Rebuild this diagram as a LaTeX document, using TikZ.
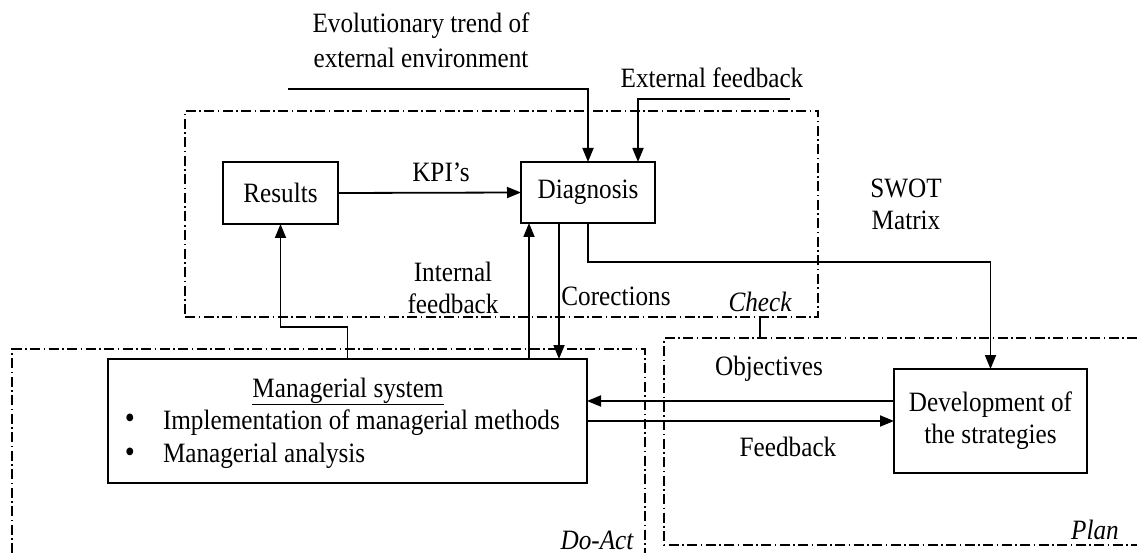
\documentclass[tikz,border=0pt]{standalone}
\usepackage{fontspec}
\setmainfont{Liberation Serif}[FakeStretch=0.9]
\usetikzlibrary{arrows.meta}
\begin{document}
\begin{tikzpicture}[x=1pt,y=-1pt,
  every node/.style={font=\fontsize{28}{32}\selectfont, inner sep=0pt, outer sep=0pt},
  block/.style={draw, line width=1.5pt, align=center},
  frame/.style={line width=1.2pt, dash pattern=on 10pt off 3.5pt on 1.5pt off 3.5pt},
  arr/.style={line width=1.8pt, -{Triangle[length=14pt,width=11pt]}},
  link/.style={line width=1.6pt},
  lbl/.style={align=center},
  phase/.style={font=\fontsize{28}{32}\selectfont\itshape},
  dot/.style={font=\fontsize{32}{32}\selectfont}
]
\useasboundingbox (0,0) rectangle (1137,553);

% phase frames
\node[frame, draw, minimum width=633pt, minimum height=206pt] (check) at (501.5,214) {};
\draw[frame] (12,553) -- (12,349) -- (645,349) -- (645,553);
\draw[frame] (1137,338) -- (664,338) -- (664,545) -- (1137,545);
\coordinate (tickA) at (760,317);
\coordinate (tickB) at (760,338);
\draw[link] (tickA) -- (tickB);

% blocks
\node[block, minimum width=115pt, minimum height=62pt] (res) at (280.5,193) {Results};
\node[block, minimum width=134pt, minimum height=61pt] (diag) at (588,192.5) {Diagnosis};
\node[block, minimum width=479pt, minimum height=124pt] (mgr) at (347.5,421) {};
\node[block, minimum width=193pt, minimum height=104pt] (dev) at (990.5,421) {Development of\\the strategies};

% content of the managerial block
\node[anchor=base] (mgrT) at (348,397) {\underline{Managerial system}};
\node[dot] (b1) at (130,421) {•};
\node[dot] (b2) at (130,455) {•};
\node[anchor=base west] (m1) at (163,429) {Implementation of managerial methods};
\node[anchor=base west] (m2) at (163,462) {Managerial analysis};

% inputs from outside
\coordinate (evo) at (288,89);
\coordinate (extfb) at (790,99);
\draw[arr] (evo) -| (diag.north);
\draw[arr] (extfb) -| ([xshift=50pt]diag.north);

% connectors
\draw[arr] (res.east) -- (diag.west);
\coordinate (resbend) at (0,327);
\draw[arr] (mgr.north) -- (mgr.north |- resbend) -| (res.south);
\draw[arr] ([xshift=-59pt]diag.south |- mgr.north) -- ([xshift=-59pt]diag.south);
\draw[arr] ([xshift=-29pt]diag.south) -- ([xshift=-29pt]diag.south |- mgr.north);
\coordinate (swotbend) at (0,262);
\draw[arr] (diag.south) -- (diag.south |- swotbend) -| (dev.north);
\draw[arr] ([yshift=20pt]dev.west) -- ([yshift=20pt]dev.west -| mgr.east);
\draw[arr] (mgr.east) -- (dev.west);

% labels
\node[lbl, font=\fontsize{28}{35}\selectfont] (tEvo) at (421,40) {Evolutionary trend of\\external environment};
\node (tExt) at (712,78) {External feedback};
\node (tKpi) at (441,172) {KPI’s};
\node[lbl] (tInt) at (453,288) {Internal\\feedback};
\node (tCor) at (616,296) {Corections};
\node[phase] (tCheck) at (760,302) {Check};
\node[lbl] (tSwot) at (906,204) {SWOT\\Matrix};
\node (tObj) at (769,369) {Objectives};
\node (tFb) at (788,447) {Feedback};
\node[phase, anchor=base] (tDo) at (597,549) {Do-Act};
\node[phase] (tPlan) at (1095,530) {Plan};
\end{tikzpicture}
\end{document}
